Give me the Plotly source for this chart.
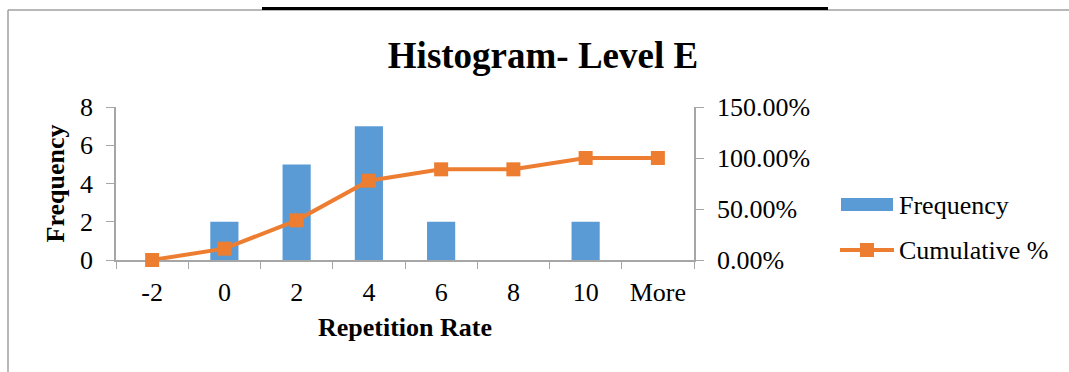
import plotly.graph_objects as go

# Histogram bins and counts
bins = ["-2", "0", "2", "4", "6", "8", "10", "More"]
frequency = [0, 2, 5, 7, 2, 0, 2, 0]
cumulative_pct = [0.0, 0.1111, 0.3889, 0.7778, 0.8889, 0.8889, 1.0, 1.0]
series_names = ["Frequency", "Cumulative %"]

BLUE = "#5B9BD5"
ORANGE = "#ED7D31"
AXIS_GRAY = "#A6A6A6"
FONT = "Liberation Serif, Times New Roman, serif"

W, H = 1069, 372
L, R, T, B = 116, 694, 107, 260  # plot area in pixels


def px(x):
    return (x - L) / (R - L)


def py(y):
    return (B - y) / (B - T)


fig = go.Figure()
fig.add_trace(go.Bar(
    x=bins, y=frequency, name=series_names[0],
    marker=dict(color=BLUE, line=dict(width=0)),
    width=0.39, yaxis="y", showlegend=False,
))
fig.add_trace(go.Scatter(
    x=bins, y=cumulative_pct, name=series_names[1],
    mode="lines+markers",
    line=dict(color=ORANGE, width=4),
    marker=dict(symbol="square", size=14, color=ORANGE),
    yaxis="y2", showlegend=False, cliponaxis=False,
))

fig.update_layout(
    width=W, height=H,
    margin=dict(l=L, r=W - R, t=T, b=H - B, pad=0),
    paper_bgcolor="white", plot_bgcolor="white",
    font=dict(family=FONT, size=26, color="black"),
    showlegend=False,
    title=dict(text="<b>Histogram- Level E</b>", x=543 / W, xanchor="center",
               y=1 - 55 / H, yanchor="middle",
               font=dict(family=FONT, size=37, color="black")),
    xaxis=dict(
        type="category", range=[-0.5, 7.5],
        showline=True, linecolor=AXIS_GRAY, linewidth=1.5,
        ticks="outside", tickson="boundaries", ticklen=7, tickcolor=AXIS_GRAY,
        showgrid=False, zeroline=False, layer="below traces",
        tickfont=dict(family=FONT, size=26),
        ticklabelstandoff=8,
        title=dict(text="<b>Repetition Rate</b>", standoff=12,
                   font=dict(family=FONT, size=26)),
    ),
    yaxis=dict(
        range=[0, 8], dtick=2,
        showline=True, linecolor=AXIS_GRAY, linewidth=1.5,
        ticks="outside", ticklen=8, tickcolor=AXIS_GRAY,
        showgrid=False, zeroline=False, layer="below traces",
        tickfont=dict(family=FONT, size=26),
        ticklabelstandoff=8,
        title=dict(text="<b>Frequency</b>", standoff=8,
                   font=dict(family=FONT, size=26)),
    ),
    yaxis2=dict(
        range=[0, 1.5], dtick=0.5, tickformat=".2%",
        overlaying="y", side="right",
        showline=True, linecolor=AXIS_GRAY, linewidth=1.5,
        ticks="outside", ticklen=8, tickcolor=AXIS_GRAY,
        showgrid=False, zeroline=False, layer="below traces",
        tickfont=dict(family=FONT, size=26),
        ticklabelstandoff=8,
    ),
)

# legend keys drawn beside the plot
fig.add_shape(type="rect", xref="paper", yref="paper",
              x0=px(841), x1=px(893), y0=py(198), y1=py(211),
              line=dict(width=0), fillcolor=BLUE)
fig.add_shape(type="line", xref="paper", yref="paper",
              x0=px(840), x1=px(894), y0=py(250), y1=py(250),
              line=dict(color=ORANGE, width=4))
fig.add_shape(type="rect", xref="paper", yref="paper",
              x0=px(860), x1=px(874), y0=py(243), y1=py(257),
              line=dict(width=0), fillcolor=ORANGE)
for name, ycen in zip(series_names, [205, 250]):
    fig.add_annotation(text=name, xref="paper", yref="paper",
                       x=px(897), y=py(ycen), xanchor="left", yanchor="middle",
                       showarrow=False, font=dict(family=FONT, size=26))

# chart frame: thin gray border on top and left, black rule at the top
fig.add_shape(type="line", xref="paper", yref="paper",
              x0=px(8), x1=px(W + 5), y0=py(10), y1=py(10),
              line=dict(color="#A0A0A0", width=1.5))
fig.add_shape(type="line", xref="paper", yref="paper",
              x0=px(8), x1=px(8), y0=py(10), y1=py(H + 5),
              line=dict(color="#A0A0A0", width=1.5))
fig.add_shape(type="line", xref="paper", yref="paper",
              x0=px(262), x1=px(828), y0=py(8.5), y1=py(8.5),
              line=dict(color="black", width=3))

fig.write_html("out.html")
